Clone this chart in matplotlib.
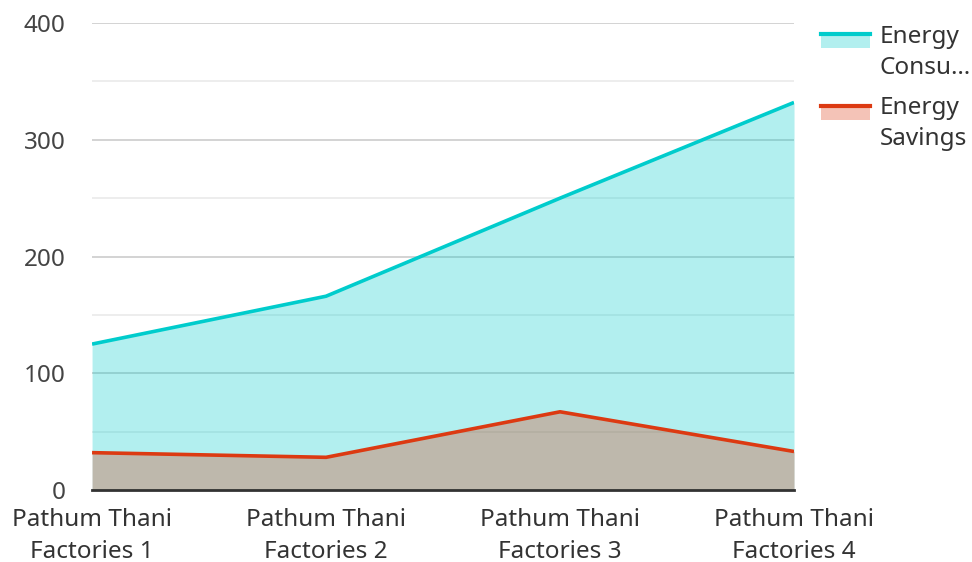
import matplotlib
matplotlib.use('Agg')
import matplotlib.pyplot as plt
from matplotlib.patches import Rectangle
from matplotlib.lines import Line2D
from matplotlib.legend_handler import HandlerBase
import numpy as np

#===============================================================================#
# data                                                                          #
#===============================================================================#

factories = ['Pathum Thani\nFactories 1', 'Pathum Thani\nFactories 2',
             'Pathum Thani\nFactories 3', 'Pathum Thani\nFactories 4']
consumption = [125, 166, 250, 332]
savings = [32, 28, 67, 33]
seriesLabels = ['Energy\nConsu\u2026', 'Energy\nSavings']
yTicks = [0, 100, 200, 300, 400]

cyan = '#00CCCC'
red = '#DC3A12'
fs = 17.5

plt.rcParams['font.family'] = ['Noto Sans', 'DejaVu Sans']

#===============================================================================#
# legend swatch: filled box with the line along its top edge                    #
#===============================================================================#

class AreaHandler( HandlerBase ):
    def create_artists( self, legend, orig, xd, yd, w, h, fontsize, trans ):
        color = orig.get_color()
        top = yd + h * 1.81
        bot = yd + h * 0.9
        rect = Rectangle( (xd, bot), w, top - bot, facecolor=color,
                          alpha=0.3, edgecolor='none', transform=trans )
        line = Line2D( [xd, xd+w], [top, top], color=color, lw=3, transform=trans )
        return [rect, line]

#===============================================================================#
# plot                                                                          #
#===============================================================================#

fig = plt.figure( figsize=(9.72, 5.62), dpi=100 )
ax = fig.add_axes( [0.0947, 0.1281, 0.7222, 0.8309] )

x = np.arange( len(factories) )
ax.fill_between( x, 0, consumption, color=cyan, alpha=0.3, lw=0, zorder=2 )
ax.fill_between( x, 0, savings, color=red, alpha=0.3, lw=0, zorder=2 )
lc, = ax.plot( x, consumption, color=cyan, lw=2.6, zorder=3, solid_capstyle='butt' )
ls, = ax.plot( x, savings, color=red, lw=2.6, zorder=3, solid_capstyle='butt' )

ax.set_xlim( 0, len(factories) - 1 )
ax.set_ylim( 0, 400 )
ax.set_yticks( yTicks )
ax.set_yticks( [50, 150, 250, 350], minor=True )
ax.set_xticks( x )
ax.set_xticklabels( factories, fontsize=fs, color='#333333', linespacing=1.42 )
ax.tick_params( axis='y', which='both', length=0, pad=19, labelsize=fs, labelcolor='#444444' )
ax.tick_params( axis='x', length=0, pad=13 )
ax.grid( axis='y', which='major', color='#c8c8c8', lw=1.1, zorder=0 )
ax.grid( axis='y', which='minor', color='#e8e8e8', lw=1.1, zorder=0 )
ax.set_axisbelow( True )
for side in ['left', 'right', 'top']:
    ax.spines[side].set_visible( False )
ax.spines['bottom'].set_color( '#333333' )
ax.spines['bottom'].set_linewidth( 2 )
ax.spines['bottom'].set_zorder( 4 )

leg = fig.legend( [lc, ls], seriesLabels, loc='upper left', bbox_to_anchor=(0.8247, 0.99),
                  frameon=False, fontsize=fs, handlelength=2.0, handleheight=0.6,
                  handletextpad=0.42, labelspacing=0.68, borderpad=0.3,
                  handler_map={Line2D: AreaHandler()} )
for t in leg.get_texts():
    t.set_color( '#333333' )
    t.set_linespacing( 1.38 )

fig.savefig( 'out.png', dpi=100 )
